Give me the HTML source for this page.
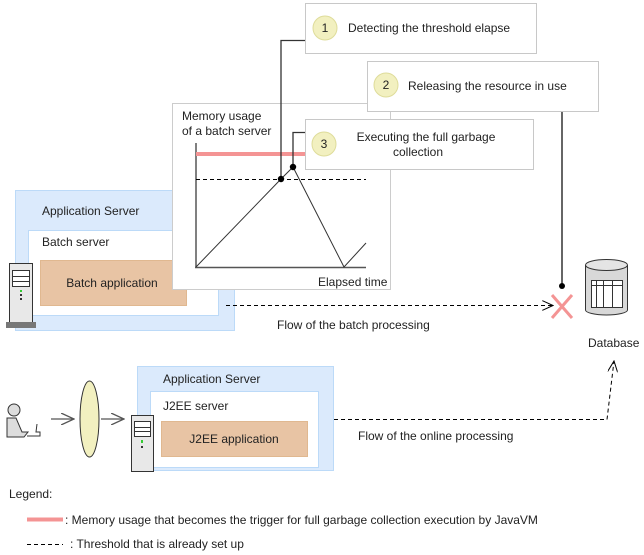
<!DOCTYPE html>
<html><head><style>
html,body{margin:0;padding:0;background:#fff;}
svg{display:block;font-family:"Liberation Sans",sans-serif;}
</style></head><body>
<svg width="644" height="555" viewBox="0 0 644 555" xmlns="http://www.w3.org/2000/svg">
<defs>
<marker id="ar" markerWidth="12" markerHeight="10" refX="11" refY="5" orient="auto" markerUnits="userSpaceOnUse">
<path d="M0,0 L11,5 L0,10" fill="none" stroke="#000" stroke-width="1"/>
</marker>
<marker id="ag" markerWidth="14" markerHeight="12" refX="13" refY="6" orient="auto" markerUnits="userSpaceOnUse">
<path d="M0,0 L13,6 L0,12" fill="none" stroke="#555" stroke-width="1.3"/>
</marker>
</defs>

<!-- App server 1 -->
<rect x="15.5" y="190.5" width="219" height="140" fill="#dbeafc" stroke="#bcdaf8"/>
<text x="42" y="215" font-size="12" fill="#222">Application Server</text>
<rect x="28.5" y="230.5" width="190" height="85" fill="#fff" stroke="#bcdaf8"/>
<text x="42" y="246" font-size="12" fill="#222">Batch server</text>
<rect x="40.5" y="260.5" width="146" height="45" fill="#e8c4a4" stroke="#e0b890"/>
<text x="112" y="287" font-size="12" fill="#222" text-anchor="middle">Batch application</text>

<!-- server icon 1 -->
<g>
<rect x="9.5" y="263.5" width="23" height="60" fill="#e8e8e8" stroke="#333"/>
<rect x="6" y="322" width="30" height="6" fill="#777"/>
<rect x="12.5" y="270.5" width="17" height="16" fill="#fff" stroke="#333"/>
<line x1="12" y1="276.5" x2="30" y2="276.5" stroke="#333"/>
<line x1="12" y1="281.5" x2="30" y2="281.5" stroke="#333"/>
<rect x="20" y="290" width="2" height="2" fill="#3c3"/>
<rect x="20" y="294" width="2" height="2" fill="#333"/>
<rect x="20" y="298" width="2" height="2" fill="#333"/>
</g>

<!-- chart box -->
<rect x="172.5" y="103.5" width="218" height="186" fill="#fff" stroke="#ccc"/>
<text x="182" y="120" font-size="12" fill="#222">Memory usage</text>
<text x="182" y="135" font-size="12" fill="#222">of a batch server</text>
<text x="318" y="286" font-size="12" fill="#222">Elapsed time</text>
<line x1="196" y1="143" x2="196" y2="268" stroke="#555" stroke-width="1.5"/>
<line x1="195" y1="267.5" x2="366" y2="267.5" stroke="#555" stroke-width="1.5"/>
<line x1="196" y1="154" x2="310" y2="154" stroke="#f49494" stroke-width="4"/>
<line x1="196" y1="179.5" x2="366" y2="179.5" stroke="#000" stroke-dasharray="4,3"/>
<polyline points="196,267 281,179 293,167 344,267 366,243" fill="none" stroke="#333" stroke-width="1"/>

<!-- connectors -->
<polyline points="281,179 281,40.5 305,40.5" fill="none" stroke="#333" stroke-width="1.3"/>
<polyline points="293,167 293,132.5 305,132.5" fill="none" stroke="#333" stroke-width="1.3"/>
<circle cx="281" cy="179" r="3.2" fill="#000"/>
<circle cx="293" cy="167" r="3.2" fill="#000"/>
<line x1="562" y1="111" x2="562" y2="286" stroke="#000" stroke-width="1.2"/>
<circle cx="562" cy="286" r="3" fill="#000"/>

<!-- callouts -->
<rect x="305.5" y="3.5" width="231" height="50" fill="#fff" stroke="#c8c8c8"/>
<circle cx="325" cy="28" r="12" fill="#f2f0c0" stroke="#dedc9a"/>
<text x="325" y="32" font-size="12" text-anchor="middle" fill="#222">1</text>
<text x="348" y="32" font-size="12" fill="#222">Detecting the threshold elapse</text>

<rect x="367.5" y="61.5" width="231" height="50" fill="#fff" stroke="#c8c8c8"/>
<circle cx="386" cy="85" r="12" fill="#f2f0c0" stroke="#dedc9a"/>
<text x="386" y="89" font-size="12" text-anchor="middle" fill="#222">2</text>
<text x="408" y="90" font-size="12" fill="#222">Releasing the resource in use</text>

<rect x="305.5" y="119.5" width="228" height="50" fill="#fff" stroke="#c8c8c8"/>
<circle cx="324" cy="144" r="12" fill="#f2f0c0" stroke="#dedc9a"/>
<text x="324" y="148" font-size="12" text-anchor="middle" fill="#222">3</text>
<text x="426" y="141" font-size="12" text-anchor="middle" fill="#222">Executing the full garbage</text>
<text x="418" y="156" font-size="12" text-anchor="middle" fill="#222">collection</text>

<!-- batch flow -->
<line x1="226" y1="305.5" x2="553" y2="305.5" stroke="#000" stroke-dasharray="4,3" marker-end="url(#ar)"/>
<text x="277" y="329" font-size="12" fill="#222">Flow of the batch processing</text>
<line x1="552" y1="295" x2="572" y2="318" stroke="#f49494" stroke-width="3"/>
<line x1="572" y1="295" x2="552" y2="318" stroke="#f49494" stroke-width="3"/>

<!-- database -->
<path d="M585.5,265 L585.5,310 A21,5 0 0 0 627.5,310 L627.5,265" fill="#d8d8d8" stroke="#333"/>
<ellipse cx="606.5" cy="265" rx="21" ry="5.5" fill="#e4e4e4" stroke="#333"/>
<rect x="591.5" y="280.5" width="31" height="27" fill="#fff" stroke="#333"/>
<line x1="591" y1="285.5" x2="623" y2="285.5" stroke="#333"/>
<line x1="596.5" y1="280" x2="596.5" y2="308" stroke="#333"/>
<line x1="603.5" y1="280" x2="603.5" y2="308" stroke="#333"/>
<line x1="612.5" y1="280" x2="612.5" y2="308" stroke="#333"/>
<text x="588" y="347" font-size="12" fill="#222">Database</text>

<!-- online part -->
<rect x="137.5" y="366.5" width="196" height="104" fill="#dbeafc" stroke="#bcdaf8"/>
<text x="163" y="383" font-size="12" fill="#222">Application Server</text>
<rect x="150.5" y="391.5" width="168" height="76" fill="#fff" stroke="#bcdaf8"/>
<text x="163" y="410" font-size="12" fill="#222">J2EE server</text>
<rect x="161.5" y="421.5" width="146" height="35" fill="#e8c4a4" stroke="#e0b890"/>
<text x="234" y="443" font-size="12" fill="#222" text-anchor="middle">J2EE application</text>

<g>
<rect x="131.5" y="415.5" width="22" height="56" fill="#e8e8e8" stroke="#333"/>
<rect x="134.5" y="421.5" width="16" height="15" fill="#fff" stroke="#333"/>
<line x1="134" y1="427.5" x2="151" y2="427.5" stroke="#333"/>
<line x1="134" y1="431.5" x2="151" y2="431.5" stroke="#333"/>
<rect x="141" y="440" width="2" height="3" fill="#3c3"/>
<rect x="141" y="446" width="2" height="2" fill="#333"/>
</g>

<!-- person -->
<g stroke="#333" fill="#ddd">
<circle cx="14" cy="410" r="6"/>
<path d="M7,418 L16,418 L22,432 L28,432 L24,437 L7,437 Z"/>
<path d="M27,436 L40,436 L40,432 L36,432 L37,424" fill="none"/>
</g>
<line x1="51" y1="419" x2="74" y2="419" stroke="#555" stroke-width="1.3" marker-end="url(#ag)"/>
<ellipse cx="89.5" cy="419" rx="9.5" ry="38" fill="#f2f0c0" stroke="#333"/>
<line x1="101" y1="419" x2="124" y2="419" stroke="#555" stroke-width="1.3" marker-end="url(#ag)"/>

<polyline points="334,419.5 607,419.5 614,361" fill="none" stroke="#000" stroke-dasharray="4,3" marker-end="url(#ar)"/>
<text x="358" y="440" font-size="12" fill="#222">Flow of the online processing</text>

<!-- legend -->
<text x="9" y="498" font-size="12" fill="#222">Legend:</text>
<line x1="27" y1="519.5" x2="63" y2="519.5" stroke="#f49494" stroke-width="4"/>
<text x="65" y="524" font-size="12" fill="#222">: Memory usage that becomes the trigger for full garbage collection execution by JavaVM</text>
<line x1="27" y1="544.5" x2="63" y2="544.5" stroke="#000" stroke-dasharray="4,3"/>
<text x="70" y="548" font-size="12" fill="#222">: Threshold that is already set up</text>
</svg>
</body></html>
